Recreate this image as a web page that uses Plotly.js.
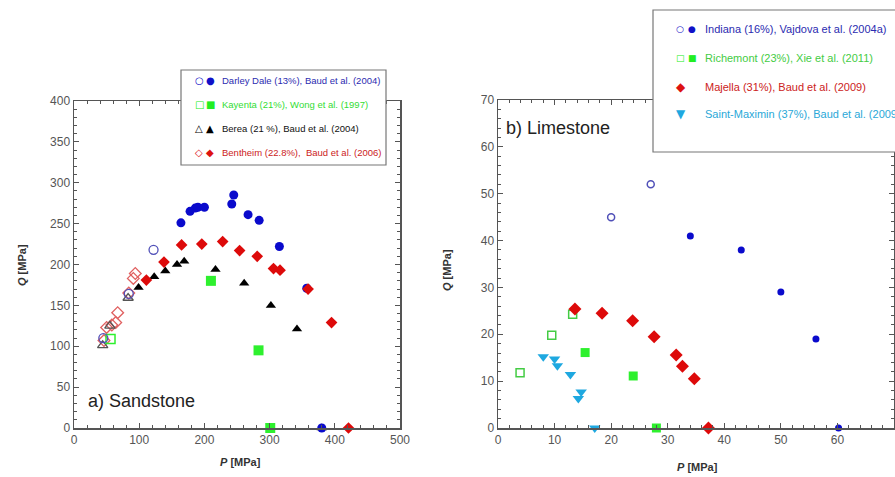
<!DOCTYPE html>
<html><head><meta charset="utf-8">
<script src="https://cdn.plot.ly/plotly-3.0.1.min.js"></script>
<style>html,body{margin:0;padding:0;background:#fff}#c{width:895px;height:477px}</style>
</head><body><div id="c"></div>
<script>
// ---- Sandstone data (P, Q in MPa) ----
const darleyOpenP = [45, 84, 122];
const darleyOpenQ = [110, 164, 218];
const darleyP = [164, 178, 186, 190, 200, 242, 245, 267, 284, 315, 357, 380];
const darleyQ = [251, 265, 269, 270, 270, 274, 285, 261, 254, 222, 171, 0];
const kayentaOpenP = [56];
const kayentaOpenQ = [109];
const kayentaP = [210, 283, 301];
const kayentaQ = [180, 95, 0];
const bereaOpenP = [44, 55, 83];
const bereaOpenQ = [101, 125, 159];
const bereaP = [99, 123, 140, 158, 169, 217, 261, 302, 342, 380];
const bereaQ = [172, 185, 192, 200, 204, 194, 177, 150, 121, 0];
const bentheimOpenP = [46, 50, 58, 64, 67, 84, 91, 94];
const bentheimOpenQ = [107, 123, 126, 129, 141, 165, 183, 189];
const bentheimP = [111, 138, 165, 196, 228, 254, 281, 306, 316, 359, 395, 421];
const bentheimQ = [181, 203, 224, 225, 228, 217, 210, 195, 193, 170, 129, 0];

// ---- Limestone data ----
const indianaOpenP = [20, 27];
const indianaOpenQ = [45, 52];
const indianaP = [34, 43, 50, 56.2, 60.2];
const indianaQ = [41, 38, 29, 19, 0];
const richOpenP = [3.9, 9.5, 13.2];
const richOpenQ = [11.8, 19.8, 24.3];
const richP = [15.4, 23.9, 28];
const richQ = [16.1, 11.1, 0];
const majellaP = [13.6, 18.4, 23.8, 27.6, 31.5, 32.6, 34.7, 37.2];
const majellaQ = [25.4, 24.5, 22.9, 19.5, 15.6, 13.2, 10.5, 0];
const stmaxP = [8.0, 10.0, 10.5, 12.8, 14.7, 14.2, 17.1];
const stmaxQ = [15.2, 14.7, 13.3, 11.4, 7.7, 6.3, 0];

// legend labels
const leftLegend = [
  {open:'○', filled:'●', text:'Darley Dale (13%), Baud et al. (2004)', c:'#2b2bb0', sc:'#1010c8'},
  {open:'□', filled:'■', text:'Kayenta (21%), Wong et al. (1997)', c:'#33dd33', sc:'#22ee22'},
  {open:'△', filled:'▲', text:'Berea (21 %), Baud et al. (2004)', c:'#111111', sc:'#000000'},
  {open:'◇', filled:'◆', text:'Bentheim (22.8%),  Baud et al. (2006)', c:'#cc2222', sc:'#dd1111'}
];
const rightLegend = [
  {open:'○', filled:'●', text:'Indiana (16%), Vajdova et al. (2004a)', c:'#2b2bb0', sc:'#1010c8'},
  {open:'□', filled:'■', text:'Richemont (23%), Xie et al. (2011)', c:'#44cc44', sc:'#22ee22'},
  {open:'', filled:'◆', text:'Majella (31%), Baud et al. (2009)', c:'#cc2222', sc:'#dd1111'},
  {open:'', filled:'▼', text:'Saint-Maximin (37%), Baud et al. (2009)', c:'#2aa8d8', sc:'#1ea8e0'}
];

const W = 895, H = 477;
const px = x => x / W, py = y => 1 - y / H;

const BLUE = '#0a0acc', OPENBLUE = '#5050b8', GREEN = '#2ef02e', RED = '#dd0a0a', OPENRED = '#e06060', CYAN = '#1ea8e0';

function tr(x, y, ax, sym, size, color, open, lw) {
  const m = open ? {symbol: sym, size: size, color: color, line: {color: color, width: lw || 1.3}}
                 : {symbol: sym, size: size, color: color, line: {width: 0}};
  return {x: x, y: y, xaxis: ax === 2 ? 'x2' : 'x', yaxis: ax === 2 ? 'y2' : 'y',
          type: 'scatter', mode: 'markers', marker: m, cliponaxis: false, showlegend: false, hoverinfo: 'skip'};
}

const data = [
  tr(bentheimOpenP, bentheimOpenQ, 1, 'diamond-open', 9, OPENRED, true),
  tr(bereaOpenP, bereaOpenQ, 1, 'triangle-up-open', 9, '#555', true),
  tr(kayentaOpenP, kayentaOpenQ, 1, 'square-open', 9, GREEN, true, 1.5),
  tr(darleyOpenP, darleyOpenQ, 1, 'circle-open', 9, OPENBLUE, true),
  tr(kayentaP, kayentaQ, 1, 'square', 10, GREEN, false),
  tr(bereaP, bereaQ, 1, 'triangle-up', 9, '#000', false),
  tr(darleyP, darleyQ, 1, 'circle', 9, BLUE, false),
  tr(bentheimP, bentheimQ, 1, 'diamond', 9, RED, false),

  tr(richOpenP, richOpenQ, 2, 'square-open', 8, '#44cc44', true, 1.5),
  tr(richP, richQ, 2, 'square', 9, GREEN, false),
  tr(stmaxP, stmaxQ, 2, 'triangle-down', 10, CYAN, false),
  tr(majellaP, majellaQ, 2, 'diamond', 10, RED, false),
  tr(indianaOpenP, indianaOpenQ, 2, 'circle-open', 7, OPENBLUE, true, 1.5),
  tr(indianaP, indianaQ, 2, 'circle', 7, BLUE, false)
];

const FONT = 'Liberation Sans, Arial, sans-serif';
function axis(range, dtick, minor, domain, anchor) {
  return {
    range: range, domain: domain, anchor: anchor, dtick: dtick, tick0: 0,
    showgrid: false, zeroline: false, showline: true, mirror: 'ticks',
    linecolor: '#555', linewidth: 1.5, ticks: 'inside', ticklen: 5, tickwidth: 1.2, tickcolor: '#555',
    minor: {dtick: minor, ticks: 'inside', ticklen: 3, tickwidth: 1, tickcolor: '#555', showgrid: false},
    tickfont: {family: FONT, size: 12, color: '#555'},
    automargin: false,
    fixedrange: true
  };
}
const xT = '<b><i>P</i> [MPa]</b>', yT = '<b><i>Q</i> [MPa]</b>';
const TFONT = {family: FONT, size: 11, color: '#333'};

const layout = {
  width: W, height: H, margin: {l: 0, r: 0, t: 0, b: 0},
  paper_bgcolor: '#fff', plot_bgcolor: '#fff', showlegend: false,
  xaxis: axis([0, 500], 100, 20, [px(74), px(400)], 'y'),
  yaxis: axis([0, 400], 50, 10, [py(428), py(101)], 'x'),
  xaxis2: axis([0, 70], 10, 2, [px(498), px(894)], 'y2'),
  yaxis2: axis([0, 70], 10, 2, [py(428), py(100)], 'x2'),
  shapes: [
    {type: 'rect', xref: 'paper', yref: 'paper', x0: px(181), x1: px(386), y0: py(165), y1: py(70),
     line: {color: '#777', width: 1.2}, fillcolor: '#fff', layer: 'above'},
    {type: 'rect', xref: 'paper', yref: 'paper', x0: px(653), x1: px(900), y0: py(152), y1: py(10),
     line: {color: '#777', width: 1.2}, fillcolor: '#fff', layer: 'above'}
  ],
  annotations: [
    {xref: 'paper', yref: 'paper', x: px(86), y: py(401), xanchor: 'left', yanchor: 'middle', showarrow: false,
     text: 'a) Sandstone', font: {family: FONT, size: 18, color: '#222'}},
    {xref: 'paper', yref: 'paper', x: px(504), y: py(128), xanchor: 'left', yanchor: 'middle', showarrow: false,
     text: 'b) Limestone', font: {family: FONT, size: 18, color: '#222'}},
    {xref: 'paper', yref: 'paper', x: px(240), y: py(462), xanchor: 'center', yanchor: 'middle', showarrow: false,
     text: xT, font: TFONT},
    {xref: 'paper', yref: 'paper', x: px(697), y: py(467), xanchor: 'center', yanchor: 'middle', showarrow: false,
     text: xT, font: TFONT},
    {xref: 'paper', yref: 'paper', x: px(22), y: py(265), xanchor: 'center', yanchor: 'middle', showarrow: false,
     text: yT, textangle: -90, font: TFONT},
    {xref: 'paper', yref: 'paper', x: px(447), y: py(270), xanchor: 'center', yanchor: 'middle', showarrow: false,
     text: yT, textangle: -90, font: TFONT}
  ]
};

const lY = [80, 104, 129, 153];
leftLegend.forEach((e, i) => {
  layout.annotations.push({xref: 'paper', yref: 'paper', x: px(199), y: py(lY[i]), xanchor: 'center', yanchor: 'middle',
    showarrow: false, text: e.open, font: {family: 'DejaVu Sans', size: 10, color: e.sc}});
  layout.annotations.push({xref: 'paper', yref: 'paper', x: px(210), y: py(lY[i]), xanchor: 'center', yanchor: 'middle',
    showarrow: false, text: e.filled, font: {family: 'DejaVu Sans', size: 10, color: e.sc}});
  layout.annotations.push({xref: 'paper', yref: 'paper', x: px(220), y: py(lY[i]), xanchor: 'left', yanchor: 'middle',
    showarrow: false, text: e.text, font: {family: FONT, size: 9.5, color: e.c}});
});
const rY = [29, 58, 87, 114];
rightLegend.forEach((e, i) => {
  layout.annotations.push({xref: 'paper', yref: 'paper', x: px(680), y: py(rY[i]), xanchor: 'center', yanchor: 'middle',
    showarrow: false, text: e.open, font: {family: 'DejaVu Sans', size: 9, color: e.sc}});
  layout.annotations.push({xref: 'paper', yref: 'paper', x: px(i >= 2 ? 681 : 692), y: py(rY[i]), xanchor: 'center', yanchor: 'middle',
    showarrow: false, text: e.filled, font: {family: 'DejaVu Sans', size: i >= 2 ? 12 : 9, color: e.sc}});
  layout.annotations.push({xref: 'paper', yref: 'paper', x: px(703), y: py(rY[i]), xanchor: 'left', yanchor: 'middle',
    showarrow: false, text: e.text, font: {family: FONT, size: 11, color: e.c}});
});

Plotly.newPlot('c', data, layout, {staticPlot: true, displayModeBar: false});
</script></body></html>
